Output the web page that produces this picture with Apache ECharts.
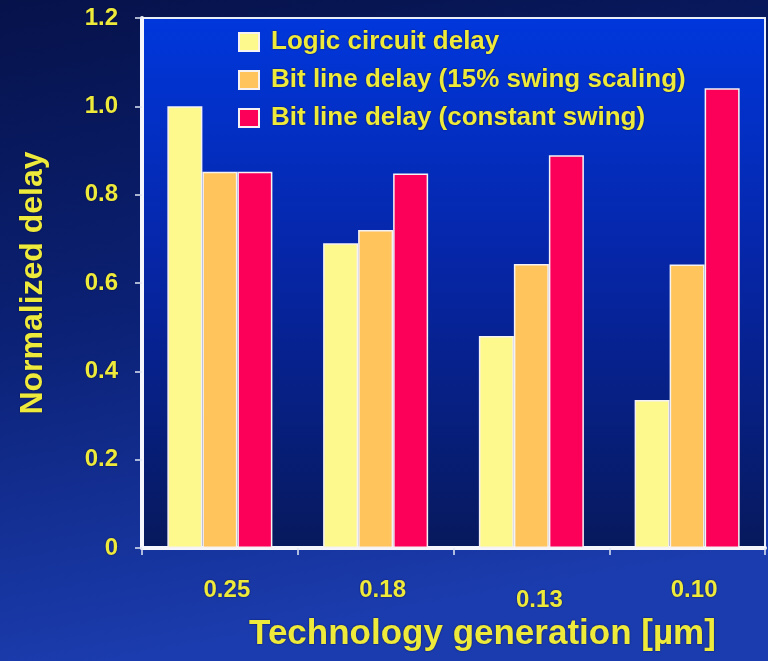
<!DOCTYPE html>
<html>
<head>
<meta charset="utf-8">
<script src="https://cdn.jsdelivr.net/npm/echarts@6/dist/echarts.min.js"></script>
<style>html,body{margin:0;padding:0;background:#0a1a5a;}#chart{width:768px;height:661px;}</style>
</head>
<body>
<div id="chart"></div>
<script>
var categories = ['0.25', '0.18', '0.13', '0.10'];
var seriesNames = ['Logic circuit delay', 'Bit line delay (15% swing scaling)', 'Bit line delay (constant swing)'];
var logicDelay = [1.00, 0.69, 0.48, 0.335];
var bitLine15 = [0.852, 0.72, 0.643, 0.642];
var bitLineConst = [0.852, 0.848, 0.889, 1.041];
var yTicks = ['0', '0.2', '0.4', '0.6', '0.8', '1.0', '1.2'];

var yellowText = '#eeea3c';
var font = 'Liberation Sans, Arial, sans-serif';
var shadow = {textShadowColor: 'rgba(0,0,40,0.7)', textShadowBlur: 2};

var chart = echarts.init(document.getElementById('chart'), null, {renderer: 'canvas'});
var colors = ['#fdf98c', '#ffc55c', '#fc0059'];
var values = [logicDelay, bitLine15, bitLineConst];

var option = {
  animation: false,
  backgroundColor: new echarts.graphic.LinearGradient(0, 0, 0.15, 1, [
    {offset: 0, color: '#06124a'},
    {offset: 0.5, color: '#0b2175'},
    {offset: 1, color: '#1b3cae'}
  ]),
  grid: {
    left: 142, right: 3, top: 18, bottom: 113,
    show: true,
    borderColor: '#e8eef8',
    borderWidth: 2,
    backgroundColor: new echarts.graphic.LinearGradient(0, 0, 0, 1, [
      {offset: 0, color: '#0037dc'},
      {offset: 0.45, color: '#0626a8'},
      {offset: 1, color: '#07195c'}
    ])
  },
  legend: {
    orient: 'vertical',
    left: 238, top: 29,
    padding: 0,
    itemWidth: 20, itemHeight: 18,
    itemGap: 12,
    icon: 'rect',
    data: seriesNames,
    textStyle: Object.assign({
      color: yellowText, fontSize: 26, fontWeight: 'bold', fontFamily: font,
      lineHeight: 26, padding: [0, 0, 0, 7]
    }, shadow)
  },
  xAxis: {
    type: 'category',
    data: categories.map(function (c, i) {
      return i === 2 ? {value: c, textStyle: {padding: [10, 0, 0, 16]}} : {value: c, textStyle: {padding: [0, 0, 0, 14]}};
    }),
    name: 'Technology generation [µm]',
    nameLocation: 'middle',
    nameGap: 58,
    nameTextStyle: Object.assign({
      color: yellowText, fontSize: 35, fontWeight: 'bold', fontFamily: font,
      padding: [0, 0, 0, 58]
    }, shadow),
    axisLine: {show: true, lineStyle: {color: '#f4f6fb', width: 4}},
    axisTick: {show: true, length: 7, lineStyle: {color: '#e0e6f4', width: 1.5}},
    axisLabel: Object.assign({
      color: yellowText, fontSize: 24, fontWeight: 'bold', fontFamily: font, margin: 30
    }, shadow),
    splitLine: {show: false}
  },
  yAxis: {
    type: 'value',
    min: 0, max: 1.2, interval: 0.2,
    name: 'Normalized delay',
    nameLocation: 'middle',
    nameGap: 93,
    nameRotate: 90,
    nameTextStyle: Object.assign({
      color: yellowText, fontSize: 32, fontWeight: 'bold', fontFamily: font
    }, shadow),
    axisLine: {show: true, lineStyle: {color: '#f4f6fb', width: 4}},
    axisTick: {show: true, length: 7, lineStyle: {color: '#e0e6f4', width: 1.5}},
    axisLabel: Object.assign({
      color: yellowText, fontSize: 24, fontWeight: 'bold', fontFamily: font, margin: 24,
      formatter: function (v) {
        var idx = Math.round(v / 0.2);
        return yTicks[idx];
      }
    }, shadow),
    splitLine: {show: false}
  },
  series: seriesNames.map(function (name, i) {
    return {
      name: name,
      type: 'bar',
      data: values[i],
      barWidth: 35,
      barGap: '0%',
      itemStyle: {color: colors[i], borderColor: '#f6f2f4', borderWidth: 1.5}
    };
  })
};
chart.setOption(option);
</script>
</body>
</html>
